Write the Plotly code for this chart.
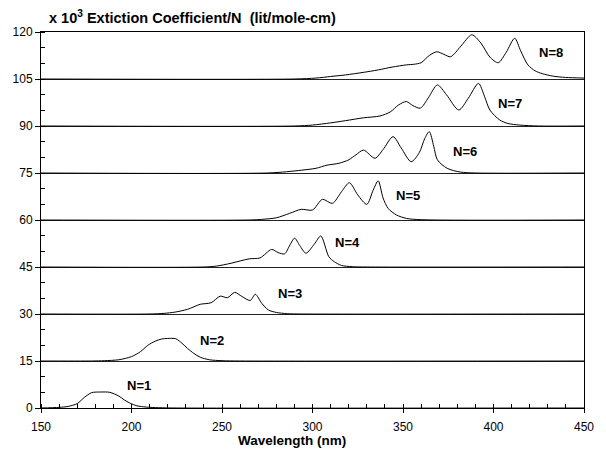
import plotly.graph_objects as go

# ---- data ----
n_labels = ["N=1", "N=2", "N=3", "N=4", "N=5", "N=6", "N=7", "N=8"]
offsets = [0, 15, 30, 45, 60, 75, 90, 105]

wl_1 = [150, 160, 165, 170, 174, 178, 183, 188, 193, 196, 199, 203, 208, 215, 225, 450]
ec_1 = [0, 0.2, 0.5, 1.4, 3.4, 4.9, 5.1, 5.0, 3.8, 2.6, 1.6, 0.7, 0.3, 0.1, 0, 0]

wl_2 = [150, 178, 185, 193, 200, 205, 209, 213, 216.5, 220, 224.5, 228, 231, 234.5, 238, 243, 250, 260, 450]
ec_2 = [0, 0, 0.1, 0.4, 1.4, 3.0, 5.0, 6.3, 7.0, 7.2, 7.1, 5.6, 4.0, 2.4, 1.2, 0.4, 0.1, 0, 0]

wl_3 = [150, 210, 218, 224, 231, 238, 244, 249, 253, 257, 261, 265.6, 268.4, 272, 275.6, 280, 286, 295, 450]
ec_3 = [0, 0, 0.2, 0.6, 1.5, 3.1, 3.6, 5.7, 5.2, 6.9, 5.6, 4.3, 6.3, 3.4, 1.3, 0.5, 0.1, 0, 0]

wl_4 = [150, 240, 247, 255, 265, 271, 277.4, 281, 284.6, 287.5, 290.1, 293, 296.4, 301, 304.6, 309, 312, 316, 322, 330, 450]
ec_4 = [0, 0, 0.3, 1.2, 2.6, 2.9, 5.6, 4.6, 4.2, 7.0, 9.2, 6.8, 4.4, 7.3, 9.9, 3.3, 1.7, 0.5, 0.1, 0, 0]

wl_5 = [150, 265, 272, 280, 287.3, 293.7, 300, 305.5, 311, 316, 320.4, 325, 330, 333.5, 336.3, 339, 341.8, 346.4, 352, 360, 450]
ec_5 = [0, 0, 0.2, 0.7, 2.1, 3.4, 3.2, 6.6, 5.3, 9.0, 11.9, 8.0, 5.0, 9.5, 12.5, 7.0, 3.7, 1.6, 0.5, 0.1, 0]

wl_6 = [150, 275, 285.6, 294, 301.9, 308, 314.6, 320, 324, 328.2, 334.5, 339, 344.5, 349, 354.5, 359, 362, 364.5, 367, 369, 374.4, 381.7, 390, 450]
ec_6 = [0, 0, 0.4, 0.9, 1.5, 2.5, 3.1, 4.2, 5.8, 7.3, 4.7, 7.5, 11.6, 8.0, 3.6, 6.5, 11.0, 13.2, 8.5, 4.2, 1.5, 0.3, 0, 0]

wl_7 = [150, 290, 300, 310, 318.2, 328, 337.3, 343, 347.5, 351.8, 355.5, 359.6, 364, 369, 374, 380.8, 386, 391.7, 395, 398, 403.5, 408, 414.4, 425, 450]
ec_7 = [0, 0, 0.3, 1.0, 1.7, 2.6, 3.2, 4.5, 6.7, 7.8, 6.5, 5.7, 9.0, 13.1, 10.0, 5.1, 8.8, 13.6, 9.5, 5.1, 1.9, 0.8, 0.3, 0, 0]

wl_8 = [150, 290, 301.9, 310, 318.2, 328, 336.3, 344, 351.8, 356, 360, 364.5, 368.7, 372.5, 376.3, 382, 388, 393, 398, 402.6, 407, 411.7, 415, 419, 423, 427, 433, 439.8, 450]
ec_8 = [0, 0, 0.3, 0.8, 1.3, 2.1, 2.9, 3.8, 4.5, 4.7, 5.2, 7.5, 8.7, 7.9, 7.1, 10.5, 14.1, 11.5, 7.0, 5.2, 8.5, 13.0, 9.0, 4.5, 2.6, 1.7, 0.9, 0.5, 0.3]

label_x = [204, 244.7, 287.7, 319.3, 352.5, 384.4, 409, 432]
label_dy = [7.3, 6.7, 6.7, 7.7, 7.7, 6.8, 7.3, 8.4]

x_ticks = [150, 200, 250, 300, 350, 400, 450]
y_ticks = [0, 15, 30, 45, 60, 75, 90, 105, 120]

wls = [wl_1, wl_2, wl_3, wl_4, wl_5, wl_6, wl_7, wl_8]
ecs = [ec_1, ec_2, ec_3, ec_4, ec_5, ec_6, ec_7, ec_8]

FONT = "Arial, Liberation Sans, sans-serif"

fig = go.Figure()
for wl, ec, off in zip(wls, ecs, offsets):
    fig.add_trace(go.Scatter(
        x=wl, y=[v + off for v in ec], mode="lines",
        line=dict(color="black", width=1, shape="spline", smoothing=0.8),
        showlegend=False, hoverinfo="skip"))

for lab, lx, dy, off in zip(n_labels, label_x, label_dy, offsets):
    fig.add_annotation(x=lx, y=off + dy, text="<b>%s</b>" % lab, showarrow=False,
                       font=dict(family=FONT, size=13, color="black"),
                       xanchor="center", yanchor="middle")

fig.add_annotation(xref="paper", yref="paper", x=0.011, y=1.040,
                   text="<b>x 10<sup>3</sup> Extiction Coefficient/N \u00a0(lit/mole-cm)</b>",
                   showarrow=False, xanchor="left", yanchor="middle",
                   font=dict(family=FONT, size=14.5, color="black"))

fig.add_annotation(xref="paper", yref="paper", x=0.462, y=-0.086,
                   text="<b>Wavelength (nm)</b>",
                   showarrow=False, xanchor="center", yanchor="middle",
                   font=dict(family=FONT, size=13.5, color="black"))

fig.update_layout(
    width=606, height=450,
    margin=dict(l=41, r=13, t=32, b=42),
    paper_bgcolor="white", plot_bgcolor="white",
    font=dict(family=FONT, size=12, color="black"),
    xaxis=dict(range=[150, 450], tickvals=x_ticks, ticks="outside", ticklen=4,
               tickcolor="black", showline=True, linecolor="black", linewidth=1,
               mirror=True, showgrid=False, zeroline=False, ticklabelstandoff=4,
               minor=dict(dtick=10, ticks="inside", ticklen=4, tickcolor="black", showgrid=False),
               tickfont=dict(family=FONT, size=12)),
    yaxis=dict(range=[0, 120], tickvals=y_ticks, ticks="outside", ticklen=5,
               tickcolor="black", showline=True, linecolor="black", linewidth=1,
               mirror=True, showgrid=True, gridcolor="#222", gridwidth=1, zeroline=False,
               minor=dict(dtick=5, ticks="inside", ticklen=4, tickcolor="black", showgrid=False),
               tickfont=dict(family=FONT, size=12)),
)

fig.write_html("out.html")
